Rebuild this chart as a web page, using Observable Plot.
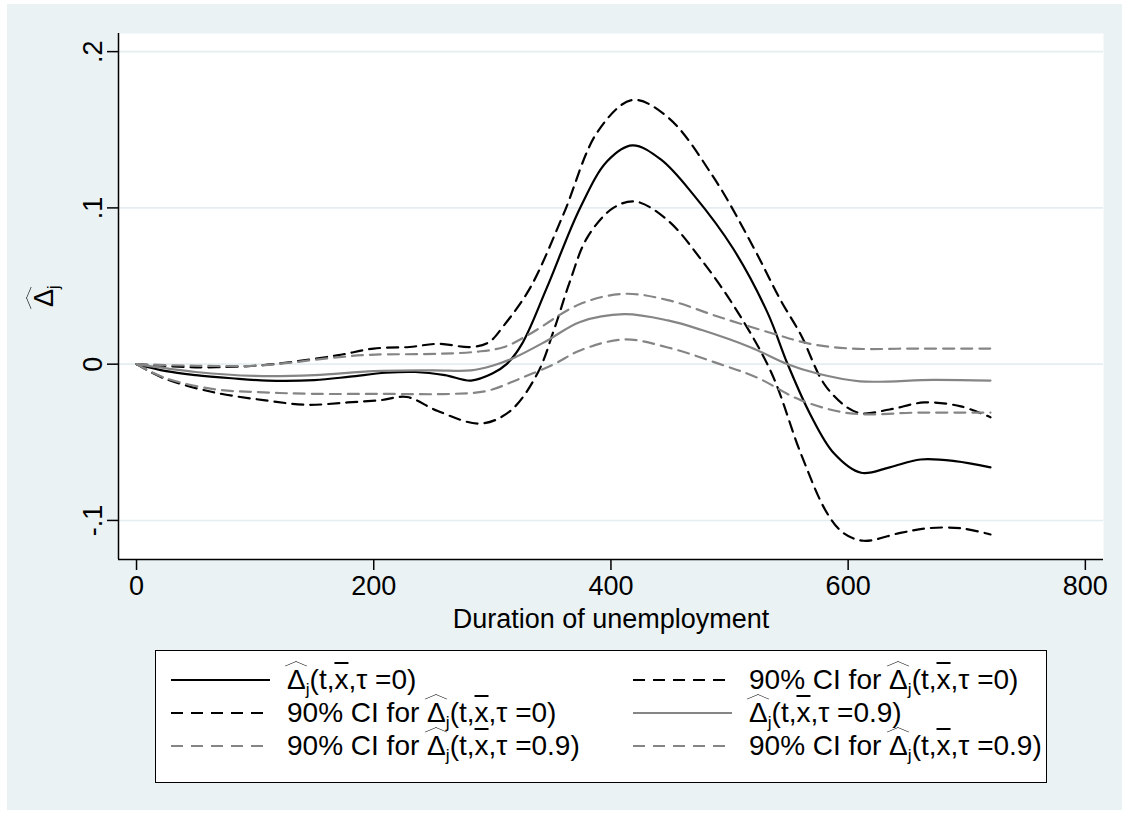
<!DOCTYPE html>
<html><head><meta charset="utf-8">
<script src="https://cdn.jsdelivr.net/npm/d3@7"></script>
<script src="https://cdn.jsdelivr.net/npm/@observablehq/plot@0.6"></script>
<style>
body{margin:0;background:#fff;font-family:"Liberation Sans",Arial,sans-serif;}
#bg{position:absolute;left:7px;top:4px;width:1115px;height:806px;background:#eaf2f3;overflow:hidden;}
#chart{position:absolute;left:0;top:0;}
#ylab{position:absolute;left:0;top:0;font-size:27px;white-space:nowrap;transform-origin:0 0;}
#legend{position:absolute;left:148px;top:646px;width:890px;height:131px;border:1.5px solid #000;background:#fff;}
.item{position:absolute;height:33px;display:flex;align-items:center;font-size:28px;white-space:nowrap;}
.item svg{margin-right:16px;}
.hat{position:relative;display:inline-block;}
.hat::before{content:"";position:absolute;left:1px;top:-6px;width:15px;height:15px;border-left:1.5px solid #000;border-top:1.5px solid #000;transform:scaleY(0.42) rotate(45deg);}
.ov{text-decoration:overline;text-decoration-thickness:1.5px;}
sub{font-size:62%;vertical-align:-0.35em;line-height:0;}
</style></head><body>
<div id="bg"><div id="chart"></div><div id="ylab"></div><div id="legend"></div></div>
<script>
// ---- data ----
const xTicks = [0, 200, 400, 600, 800];
const xTickLabels = ["0", "200", "400", "600", "800"];
const yTicks = [-0.1, 0, 0.1, 0.2];
const yTickLabels = ["-.1", "0", ".1", ".2"];
const xTitle = "Duration of unemployment";

// estimate, tau = 0 (black solid)
const tEst0 = [0,25,50,80,110,150,180,210,235,260,282,300,312,325,346,374,397,418,442,470,503,532,549,568,588,611,635,661,690,720];
const vEst0 = [0,-0.0045,-0.007,-0.009,-0.0105,-0.0102,-0.008,-0.0055,-0.005,-0.007,-0.0105,-0.006,0.0,0.013,0.049,0.100,0.130,0.140,0.131,0.108,0.074,0.033,0.0,-0.032,-0.057,-0.0695,-0.066,-0.061,-0.062,-0.066];
// upper 90% CI, tau = 0 (black dashed)
const tHi0 = [0,50,100,121,169,200,230,254,282,297,310,332,360,389,418,448,487,520,543,560,582,608,635,664,695,720];
const vHi0 = [0,-0.002,-0.001,0.0005,0.0056,0.010,0.011,0.013,0.011,0.014,0.025,0.049,0.096,0.149,0.169,0.158,0.119,0.075,0.041,0.019,-0.015,-0.031,-0.029,-0.0245,-0.027,-0.034];
// lower 90% CI, tau = 0 (black dashed)
const tLo0 = [0,23,65,107,144,178,206,228,254,290,315,338,352,365,380,402,421,448,476,503,535,560,582,596,613,644,667,695,720];
const vLo0 = [0,-0.009,-0.018,-0.023,-0.026,-0.0245,-0.023,-0.021,-0.030,-0.038,-0.030,-0.006,0.022,0.052,0.081,0.100,0.104,0.092,0.067,0.038,-0.005,-0.057,-0.095,-0.108,-0.113,-0.108,-0.105,-0.105,-0.109];
// estimate, tau = 0.9 (gray solid)
const tEst9 = [0,50,100,150,200,250,282,300,318,346,374,411,448,476,518,549,574,610,672,720];
const vEst9 = [0,-0.005,-0.0075,-0.007,-0.0045,-0.004,-0.004,-0.001,0.004,0.015,0.027,0.032,0.028,0.022,0.0107,0.0,-0.006,-0.011,-0.010,-0.0105];
// upper 90% CI, tau = 0.9 (gray dashed)
const tHi9 = [0,50,100,130,164,197,254,287,310,332,374,411,448,492,537,568,602,660,720];
const vHi9 = [0,-0.001,-0.001,0.001,0.004,0.006,0.0066,0.008,0.011,0.0195,0.0385,0.045,0.041,0.030,0.0195,0.013,0.010,0.010,0.010];
// lower 90% CI, tau = 0.9 (gray dashed)
const tLo9 = [0,23,65,107,149,206,267,296,324,352,374,411,448,492,523,560,602,660,720];
const vLo9 = [0,-0.0085,-0.016,-0.018,-0.019,-0.019,-0.019,-0.017,-0.009,0.0,0.0088,0.0158,0.0107,0.0,-0.0085,-0.023,-0.0315,-0.031,-0.031];

const legendPrefix = ["", "90% CI for ", "90% CI for ", "", "90% CI for ", "90% CI for "];
const legendTau = ["0", "0", "0", "0.9", "0.9", "0.9"];

// ---- styles ----
const BLACK = "#000000", GRAY = "#858585", DASH = "11,7";
const series = [
  {t: tEst0, v: vEst0, stroke: BLACK, dash: null},
  {t: tHi0, v: vHi0, stroke: BLACK, dash: DASH},
  {t: tLo0, v: vLo0, stroke: BLACK, dash: DASH},
  {t: tEst9, v: vEst9, stroke: GRAY, dash: null},
  {t: tHi9, v: vHi9, stroke: GRAY, dash: DASH},
  {t: tLo9, v: vLo9, stroke: GRAY, dash: DASH}
];

const xDomain = [-15.2, 815.3];
const yDomain = [-0.125, 0.2116];
const xLab = new Map(xTicks.map((d, i) => [d, xTickLabels[i]]));
const yLab = new Map(yTicks.map((d, i) => [d, yTickLabels[i]]));

const lineMarks = series.map(s => Plot.line(s.t.map((t, i) => ({t, v: s.v[i]})), {
  x: "t", y: "v", curve: "catmull-rom", stroke: s.stroke, strokeWidth: 2.2,
  strokeDasharray: s.dash ?? undefined
}));

const plot = Plot.plot({
  width: 1115, height: 806,
  marginLeft: 111, marginRight: 19, marginTop: 29, marginBottom: 251,
  x: {domain: xDomain}, y: {domain: yDomain},
  style: {background: "transparent", fontFamily: "'Liberation Sans', Arial, sans-serif", color: "#000"},
  marks: [
    Plot.frame({fill: "white", stroke: "none"}),
    Plot.ruleY(yTicks, {stroke: "#e4edf0", strokeWidth: 1.6}),
    ...lineMarks,
    Plot.ruleX([xDomain[0]], {stroke: "#000", strokeWidth: 1.5}),
    Plot.ruleY([yDomain[0]], {stroke: "#000", strokeWidth: 1.5}),
    Plot.axisX({ticks: xTicks, tickSize: 11, tickPadding: 5, fontSize: 27, label: null, tickFormat: d => xLab.get(d), strokeWidth: 1.5}),
    Plot.axisY({ticks: yTicks, tickSize: 11, tickPadding: 6, tickRotate: -90, fontSize: 27, label: null, tickFormat: d => yLab.get(d), strokeWidth: 1.5}),
    Plot.text([xTitle], {frameAnchor: "bottom", dy: 60, fontSize: 27, lineAnchor: "middle", text: d => d})
  ]
});
document.getElementById("chart").appendChild(plot);

// y-axis title
const yl = document.getElementById("ylab");
yl.innerHTML = '<span class="hat">Δ<sub>j</sub></span>';
const w = yl.offsetWidth, h = yl.offsetHeight;
yl.style.left = (44 - 7 - h / 2) + "px";
yl.style.top = (296 - 4 + w / 2) + "px";
yl.style.transform = "rotate(-90deg)";

// legend
const lg = document.getElementById("legend");
const colX = [14, 476];
const rowY = [12, 45, 78];
legendPrefix.forEach((p, i) => {
  const s = series[i];
  const div = document.createElement("div");
  div.className = "item";
  div.style.left = colX[i % 2] + "px";
  div.style.top = rowY[Math.floor(i / 2)] + "px";
  div.innerHTML = `<svg width="101" height="20"><line x1="1" x2="100" y1="10" y2="10" stroke="${s.stroke}" stroke-width="2.2" ${s.dash ? `stroke-dasharray="12,8"` : ""}/></svg>` +
    `<span>${p}<span class="hat">Δ<sub>j</sub></span>(t,<span class="ov">x</span>,τ =${legendTau[i]})</span>`;
  lg.appendChild(div);
});
</script>
</body></html>
